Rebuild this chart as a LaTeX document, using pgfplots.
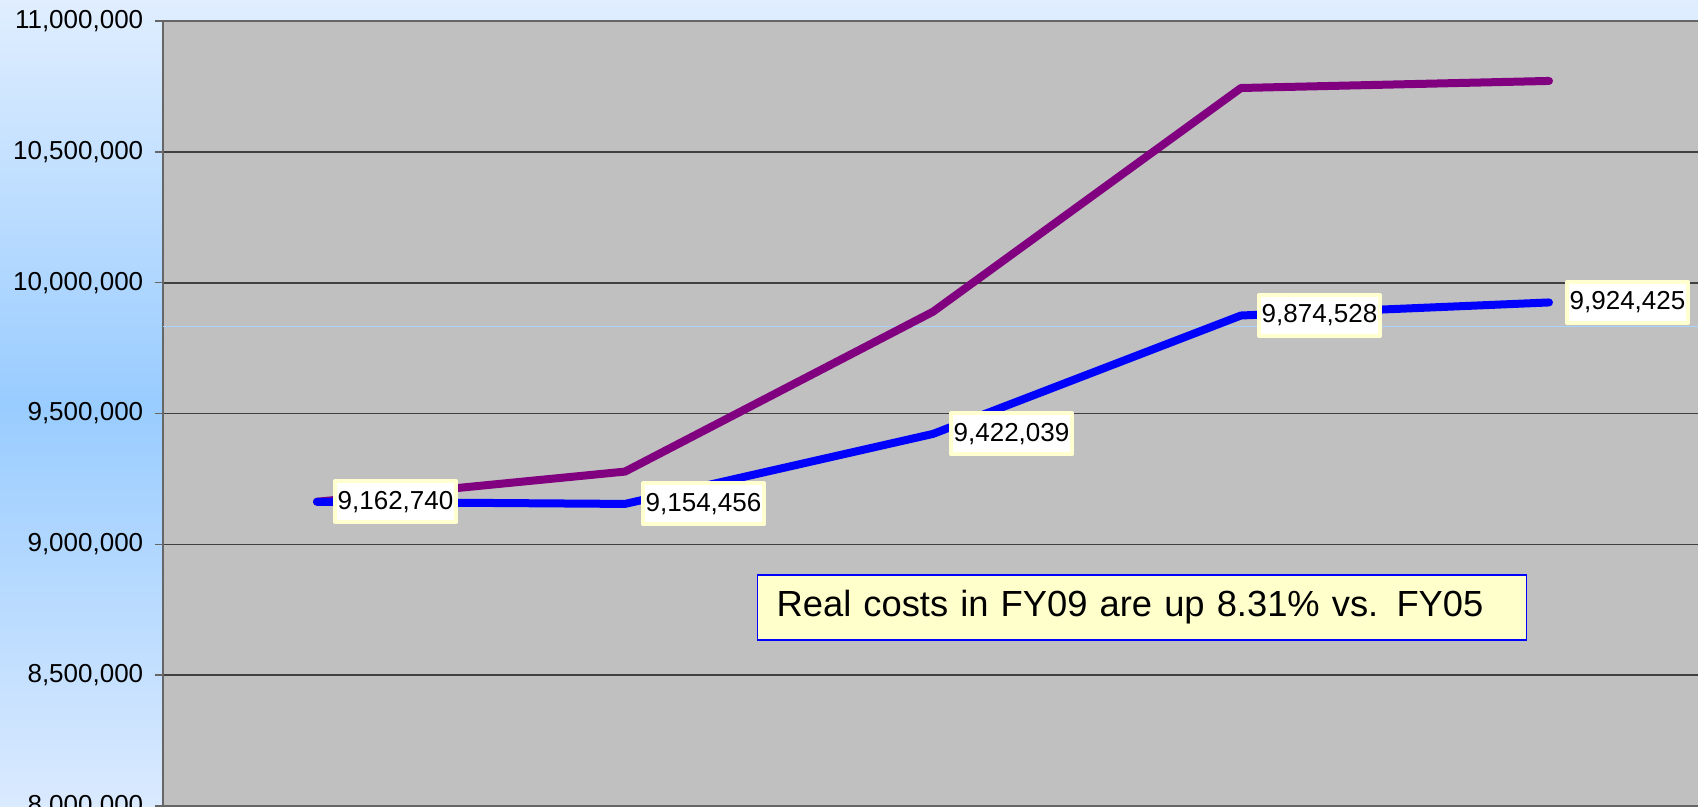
\documentclass[border=0pt]{standalone}
\usepackage{fontspec}
\setmainfont{Liberation Sans}
\usepackage{pgfplots}
\usepackage{pgfplotstable}
\pgfplotsset{compat=1.18}

\definecolor{plotgray}{RGB}{192,192,192}
\definecolor{bgtop}{RGB}{224,238,255}
\definecolor{bgmid}{RGB}{153,204,255}
\definecolor{bgbot}{RGB}{218,234,255}
\definecolor{realblue}{RGB}{0,0,255}
\definecolor{nompurple}{RGB}{128,0,128}
\definecolor{labelyellow}{RGB}{255,255,208}
\definecolor{notebox}{RGB}{255,255,204}
\definecolor{thinblue}{RGB}{170,210,255}

% real costs (labelled)
\pgfplotstableread{
x y label
0 9162740 9,162,740
1 9154456 9,154,456
2 9422039 9,422,039
3 9874528 9,874,528
4 9924425 9,924,425
}\realcosts

% nominal costs
\pgfplotstableread{
x y
0 9162740
1 9278000
2 9889000
3 10744000
4 10771000
}\nominalcosts

\begin{document}
\begin{tikzpicture}
\path[use as bounding box] (-48.9pt,0) rectangle (460.5pt,241.8pt);
\clip (-48.9pt,0) rectangle (460.5pt,241.8pt);
\shade[top color=bgtop, bottom color=bgbot, middle color=bgmid]
  (-48.9pt,0) rectangle (460.5pt,241.8pt);
\begin{axis}[
    scale only axis,
    width=462pt, height=235.5pt,
    xmin=-0.5, xmax=4.5,
    ymin=8000000, ymax=11000000,
    xtick=\empty,
    ytick={8000000,8500000,...,11000000},
    scaled y ticks=false,
    yticklabel style={font=\fontsize{7.8}{9}\selectfont,
      /pgf/number format/.cd, fixed, precision=0, 1000 sep={,}, assume math mode=true},
    ymajorgrids,
    major grid style={draw=black!75, line width=0.5pt},
    axis background/.style={fill=plotgray},
    axis line style={draw=black!60, line width=0.6pt},
    tick align=outside,
    major tick length=2.4pt,
    tick style={draw=black!60, line width=0.45pt},
]

\draw[thinblue, line width=0.3pt] (axis cs:-0.5,9830700) -- (axis cs:4.5,9830700);

\addplot[nompurple, line width=2.4pt, line cap=round, line join=round]
  table[x=x, y=y] {\nominalcosts};

\addplot[realblue, line width=2.4pt, line cap=round, line join=round,
    point meta=explicit symbolic,
    nodes near coords,
    every node near coord/.append style={
      anchor=west, xshift=4.8pt, text=black,
      font=\fontsize{7.8}{9}\selectfont,
      fill=white, draw=labelyellow, line width=1.2pt,
      inner xsep=0.8pt, inner ysep=0pt, minimum height=12.3pt}]
  table[x=x, y=y, meta=label] {\realcosts};

\node[draw=realblue, line width=0.45pt, fill=notebox,
      minimum width=230.7pt, minimum height=19.5pt,
      inner xsep=5.7pt, text width=219.3pt, align=left,
      font=\fontsize{10.9}{13}\selectfont]
  at (axis cs:2.679,8759000) {Real costs in FY09 are up 8.31\% vs. FY05};
\end{axis}
\end{tikzpicture}
\end{document}
